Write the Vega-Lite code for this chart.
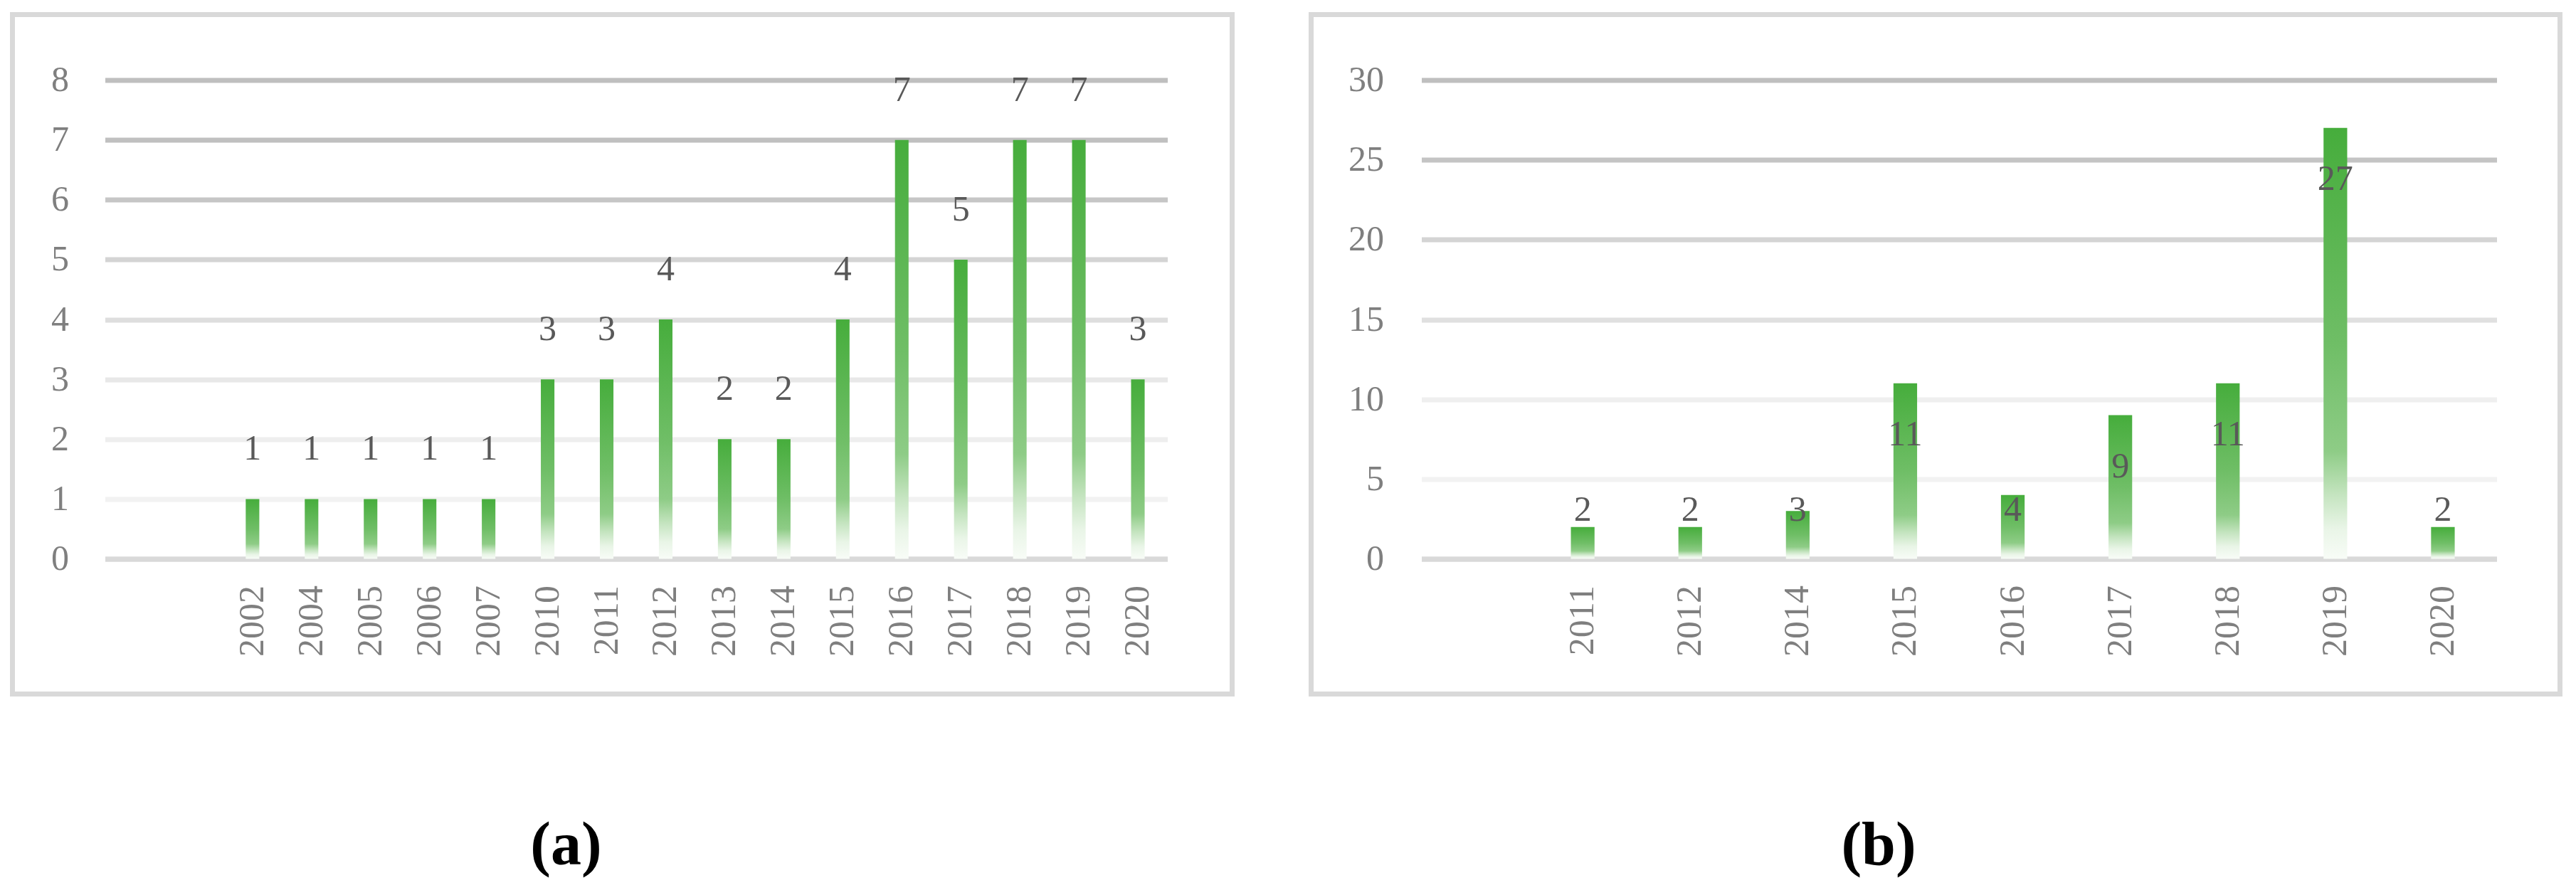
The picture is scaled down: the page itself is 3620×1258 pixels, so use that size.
{
  "$schema": "https://vega.github.io/schema/vega-lite/v6.json",
  "background": "white",
  "padding": {"left": 13.5, "top": 16.5, "right": 0, "bottom": 0},
  "config": {
    "view": {"stroke": "#d9d9d9", "strokeWidth": 7},
    "font": "Liberation Serif",
    "axis": {"labelFont": "Liberation Serif", "labelFontSize": 50, "labelColor": "#7f7f7f", "ticks": false, "tickSize": 0, "title": null},
    "concat": {"spacing": 103}
  },
  "datasets": {
    "a": [
      {"year": "2002", "count": 1}, {"year": "2004", "count": 1}, {"year": "2005", "count": 1},
      {"year": "2006", "count": 1}, {"year": "2007", "count": 1}, {"year": "2010", "count": 3},
      {"year": "2011", "count": 3}, {"year": "2012", "count": 4}, {"year": "2013", "count": 2},
      {"year": "2014", "count": 2}, {"year": "2015", "count": 4}, {"year": "2016", "count": 7},
      {"year": "2017", "count": 5}, {"year": "2018", "count": 7}, {"year": "2019", "count": 7},
      {"year": "2020", "count": 3}
    ],
    "b": [
      {"year": "2011", "count": 2}, {"year": "2012", "count": 2}, {"year": "2014", "count": 3},
      {"year": "2015", "count": 11}, {"year": "2016", "count": 4}, {"year": "2017", "count": 9},
      {"year": "2018", "count": 11}, {"year": "2019", "count": 27}, {"year": "2020", "count": 2}
    ]
  },
  "hconcat": [
    {
      "width": 1714,
      "height": 955,
      "data": {"name": "a"},
      "title": {"text": "(a)", "orient": "bottom", "anchor": "middle", "dx": -79, "offset": 239, "baseline": "alphabetic", "fontSize": 86, "fontWeight": "bold", "font": "Liberation Serif", "color": "#000000"},
      "layer": [
        {
          "mark": {"type": "bar", "color": {"gradient": "linear", "x1": 0, "y1": 0, "x2": 0, "y2": 1, "stops": [
            {"offset": 0, "color": "#46ad3c"}, {"offset": 0.5, "color": "#6fbe66"}, {"offset": 0.75, "color": "#8ecc86"},
            {"offset": 0.85, "color": "#c4e4bf"}, {"offset": 0.93, "color": "#e9f5e7"}, {"offset": 1, "color": "#f8fcf7"}]}},
          "encoding": {
            "x": {"field": "year", "type": "nominal", "sort": null,
              "scale": {"domain": [" ", "  ", "2002", "2004", "2005", "2006", "2007", "2010", "2011", "2012", "2013", "2014", "2015", "2016", "2017", "2018", "2019", "2020"], "range": [130, 1623], "paddingInner": 0.77, "paddingOuter": 0.385},
              "axis": {"labelAngle": -90, "offset": -190, "domain": true, "domainColor": "#d9d9d9", "domainWidth": 7, "labelPadding": 37, "grid": false}},
            "y": {"field": "count", "type": "quantitative",
              "scale": {"domain": [0, 8], "range": [765, 92], "nice": false},
              "axis": {"values": [0, 1, 2, 3, 4, 5, 6, 7, 8], "format": "d", "offset": -79, "labelPadding": 0, "domain": false, "grid": true, "gridWidth": 7,
                "gridColor": {"condition": [
                  {"test": "datum.value == 0", "value": "#d9d9d9"},
                  {"test": "datum.value == 1", "value": "#f2f2f2"},
                  {"test": "datum.value == 2", "value": "#eeeeee"},
                  {"test": "datum.value == 3", "value": "#e8e8e8"},
                  {"test": "datum.value == 4", "value": "#dedede"},
                  {"test": "datum.value == 5", "value": "#d4d4d4"},
                  {"test": "datum.value == 6", "value": "#c6c6c6"},
                  {"test": "datum.value == 7", "value": "#c0c0c0"}], "value": "#bfbfbf"}}}
          }
        },
        {
          "mark": {"type": "text", "dy": -70, "baseline": "middle", "align": "center", "fontSize": 50, "color": "#595959", "font": "Liberation Serif"},
          "encoding": {
            "x": {"field": "year", "type": "nominal", "sort": null},
            "y": {"field": "count", "type": "quantitative"},
            "text": {"field": "count", "type": "quantitative"}
          }
        }
      ]
    },
    {
      "width": 1755,
      "height": 955,
      "data": {"name": "b"},
      "title": {"text": "(b)", "orient": "bottom", "anchor": "middle", "dx": -80, "offset": 239, "baseline": "alphabetic", "fontSize": 86, "fontWeight": "bold", "font": "Liberation Serif", "color": "#000000"},
      "resolve": {"scale": {"y": "independent"}},
      "layer": [
        {
          "mark": {"type": "bar", "color": {"gradient": "linear", "x1": 0, "y1": 0, "x2": 0, "y2": 1, "stops": [
            {"offset": 0, "color": "#46ad3c"}, {"offset": 0.5, "color": "#6fbe66"}, {"offset": 0.75, "color": "#8ecc86"},
            {"offset": 0.85, "color": "#c4e4bf"}, {"offset": 0.93, "color": "#e9f5e7"}, {"offset": 1, "color": "#f8fcf7"}]}},
          "encoding": {
            "x": {"field": "year", "type": "nominal", "sort": null,
              "scale": {"domain": [" ", "2011", "2012", "2014", "2015", "2016", "2017", "2018", "2019", "2020"], "range": [155, 1666], "paddingInner": 0.78, "paddingOuter": 0.39},
              "axis": {"labelAngle": -90, "offset": -190, "domain": true, "domainColor": "#d9d9d9", "domainWidth": 7, "labelPadding": 37, "grid": false}},
            "y": {"field": "count", "type": "quantitative",
              "scale": {"domain": [0, 30], "range": [765, 92], "nice": false},
              "axis": {"values": [0, 5, 10, 15, 20, 25, 30], "format": "d", "offset": -102, "labelPadding": 0, "domain": false, "grid": true, "gridWidth": 7,
                "gridColor": {"condition": [
                  {"test": "datum.value == 0", "value": "#d9d9d9"},
                  {"test": "datum.value == 5", "value": "#f2f2f2"},
                  {"test": "datum.value == 10", "value": "#efefef"},
                  {"test": "datum.value == 15", "value": "#e0e0e0"},
                  {"test": "datum.value == 20", "value": "#d4d4d4"},
                  {"test": "datum.value == 25", "value": "#c4c4c4"}], "value": "#bfbfbf"}}}
          }
        },
        {
          "mark": {"type": "text", "dy": -69, "baseline": "middle", "align": "center", "fontSize": 50, "color": "#595959", "font": "Liberation Serif"},
          "encoding": {
            "x": {"field": "year", "type": "nominal", "sort": null},
            "y": {"field": "count", "type": "quantitative",
              "scale": {"domain": [6.29, 36.29], "range": [765, 92], "nice": false, "zero": false, "clamp": true},
              "axis": null},
            "text": {"field": "count", "type": "quantitative"}
          }
        }
      ]
    }
  ]
}
